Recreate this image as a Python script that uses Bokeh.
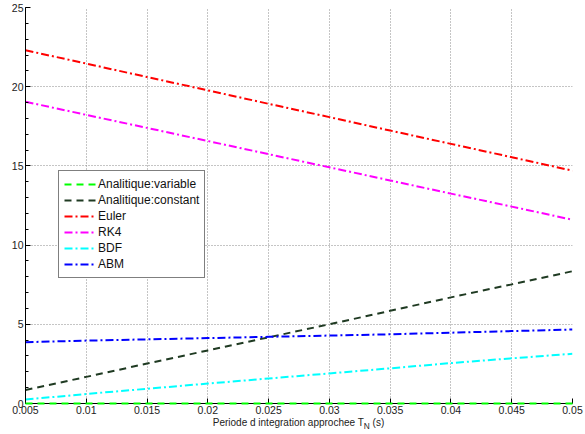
from bokeh.plotting import figure
from bokeh.models import (FixedTicker, PrintfTickFormatter, Legend, LegendItem, Range1d, Div)
from bokeh.layouts import column
from bokeh.embed import file_html
from bokeh.resources import INLINE

# ---- data ----
periods = [0.005, 0.01, 0.015, 0.02, 0.025, 0.03, 0.035, 0.04, 0.045, 0.05]
analytique_variable = [0, 0, 0, 0, 0, 0, 0, 0, 0, 0]
analytique_constant = [0.85, 1.68, 2.52, 3.35, 4.18, 5.0, 5.85, 6.7, 7.52, 8.35]
euler = [22.3, 21.46, 20.61, 19.77, 18.92, 18.08, 17.23, 16.39, 15.55, 14.7]
rk4 = [19.05, 18.22, 17.4, 16.57, 15.74, 14.91, 14.08, 13.25, 12.43, 11.6]
bdf = [0.25, 0.6, 0.93, 1.26, 1.58, 1.9, 2.22, 2.55, 2.85, 3.14]
abm = [3.87, 3.97, 4.05, 4.13, 4.21, 4.29, 4.37, 4.47, 4.57, 4.67]

x_ticks = [0.005, 0.01, 0.015, 0.02, 0.025, 0.03, 0.035, 0.04, 0.045, 0.05]
y_ticks = [0, 5, 10, 15, 20, 25]
y_minor = list(range(0, 26))
x_label_html = "Periode d integration approchee T<sub>N</sub> (s)"

series = [
    ("Analitique:variable", analytique_variable, "#00ff00", "7 5"),
    ("Analitique:constant", analytique_constant, "#1f3a22", "7 5"),
    ("Euler", euler, "#ff0000", "8 3 2 3"),
    ("RK4", rk4, "#ff00ff", "8 3 2 3"),
    ("BDF", bdf, "#00ffff", "8 3 2 3"),
    ("ABM", abm, "#0000ff", "8 3 2 3"),
]

FONT = "Liberation Sans"

p = figure(width=585, height=417, output_backend="svg", toolbar_location=None,
           x_range=Range1d(0.005, 0.05), y_range=Range1d(0, 25),
           min_border_left=25, min_border_right=13, min_border_top=7, min_border_bottom=14)
p.outline_line_color = None
p.background_fill_color = "white"
p.border_fill_color = "white"

items = []
for name, vals, color, dash in series:
    r = p.line(periods, vals, line_color=color, line_width=2, line_dash=dash)
    if name == "Analitique:variable":
        r.level = "annotation"
    items.append(LegendItem(label=name, renderers=[r]))

# axes
p.xaxis.ticker = FixedTicker(ticks=x_ticks)
p.xaxis.formatter = PrintfTickFormatter(format="%g")
p.yaxis.ticker = FixedTicker(ticks=y_ticks, minor_ticks=y_minor)
for ax in (p.xaxis[0], p.yaxis[0]):
    ax.axis_line_color = "black"
    ax.axis_line_width = 1
    ax.major_tick_in = 5
    ax.major_tick_out = 0
    ax.major_tick_line_color = "black"
    ax.minor_tick_in = 3
    ax.minor_tick_out = 0
    ax.minor_tick_line_color = "black"
    ax.major_label_text_font = FONT
    ax.major_label_text_font_size = "10.5px"
    ax.major_label_text_color = "#222222"
    ax.major_label_standoff = 2
p.xaxis.minor_tick_line_color = None

p.grid.grid_line_color = "#8a8a8a"
p.grid.grid_line_dash = "1 2"
p.grid.grid_line_width = 1
p.xgrid.ticker = FixedTicker(ticks=x_ticks)
p.ygrid.ticker = FixedTicker(ticks=y_ticks)

legend = Legend(items=items, location=(33, 125), label_text_font=FONT,
                label_text_font_size="12px", label_text_color="#111111",
                glyph_width=32, glyph_height=16, label_height=16, label_standoff=2,
                spacing=0, padding=5, margin=0,
                border_line_color="black", border_line_width=1,
                background_fill_color="white", background_fill_alpha=1)
p.add_layout(legend, "center")

xlabel = Div(text=x_label_html, width=585, height=17, margin=(0, 0, 0, 0),
             styles={"font-family": FONT, "font-size": "10px", "color": "#222222",
                     "text-align": "center", "width": "585px", "line-height": "12px",
                     "padding-left": "12px", "box-sizing": "border-box"})

layout = column(p, xlabel, spacing=0)
open("out.html", "w").write(file_html(layout, INLINE))
